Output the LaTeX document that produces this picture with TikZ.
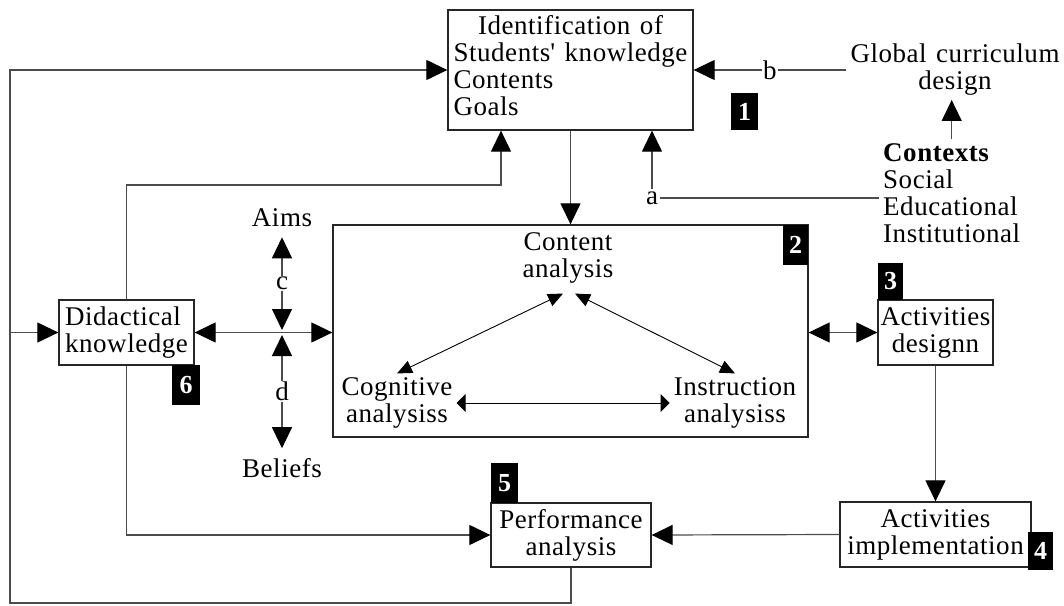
\documentclass[tikz,border=0pt]{standalone}
\usepackage{fontspec}
\setmainfont{Liberation Serif}[LetterSpace=2,WordSpace=1.3]
\usetikzlibrary{arrows.meta,calc}
\begin{document}
\begin{tikzpicture}[x=1pt,y=-1pt,
  every node/.style={font=\fontsize{27pt}{27pt}\selectfont, inner sep=4pt},
  box/.style={draw=black!85, line width=1.3pt, inner sep=0pt},
  tag/.style={fill=black, text=white, inner sep=0pt, font=\fontsize{26pt}{26pt}\selectfont\bfseries},
  conn/.style={draw=black!70, line width=1.2pt},
  arr/.style={conn, -{Triangle[length=21pt,width=20pt,color=black]}},
  dbl/.style={conn, {Triangle[length=21pt,width=20pt,color=black]}-{Triangle[length=21pt,width=20pt,color=black]}},
  sdbl/.style={draw=black, line width=0.9pt, {Triangle[length=15pt,width=13pt]}-{Triangle[length=15pt,width=13pt]}},
  hdbl/.style={draw=black, line width=0.9pt, {Triangle[length=9pt,width=18pt]}-{Triangle[length=9pt,width=18pt]}},
  lbl/.style={fill=white, inner sep=1pt}
]
\useasboundingbox (0,0) rectangle (1064,605);

% boxes
\node[box, minimum width=245pt, minimum height=120pt] (id) at (570.5,70)
  {\begin{tabular}{@{}l@{}}\multicolumn{1}{@{}c@{}}{Identification of}\\ Students\textquotesingle{} knowledge\\ Contents\\ Goals\end{tabular}};
\node[box, minimum width=475pt, minimum height=212pt] (ana) at (570.5,331) {};
\node[box, minimum width=115pt, minimum height=65pt, align=center] (des) at (935.5,332.5) {Activities\\designn};
\node[box, minimum width=191pt, minimum height=65pt, align=center] (impl) at (935.5,534.5) {Activities\\implementation};
\node[box, minimum width=160pt, minimum height=64pt, align=center] (perf) at (571,535) {Performance\\analysis};
\node[box, minimum width=135pt, minimum height=65pt, align=left] (did) at (126.5,332.5) {Didactical\\knowledge};

% number tags
\node[tag, minimum width=27pt, minimum height=37pt] (t1) at (744.5,111.5) {1};
\node[tag, minimum width=25pt, minimum height=40pt] (t2) at (795.5,245) {2};
\node[tag, minimum width=25pt, minimum height=37pt] (t3) at (890.5,281.5) {3};
\node[tag, minimum width=25pt, minimum height=38pt] (t4) at (1040.5,551) {4};
\node[tag, minimum width=27pt, minimum height=40pt] (t5) at (504.5,483) {5};
\node[tag, minimum width=28pt, minimum height=40pt] (t6) at (186,385) {6};

% inner texts of box 2
\node[align=center] (cont) at (568,258) {Content\\analysis};
\node[align=center] (cog) at (397,403) {Cognitive\\analysiss};
\node[align=center] (ins) at (735,403) {Instruction\\analysiss};

% free texts
\node[align=center] (glob) at (955,70) {Global curriculum\\design};
\node[align=left, anchor=north west] (ctx) at (879,139) {\textbf{Contexts}\\Social\\Educational\\Institutional};
\node (aims) at (282,218) {Aims};
\node (bel) at (282,468) {Beliefs};
\node[inner sep=2pt] (a) at (652,198) {a};
\coordinate (j) at (282,333);

% connectors inside box 2
\draw[sdbl] ([xshift=-5pt,yshift=-6pt]cont.south) -- (cog.north);
\draw[sdbl] ([xshift=7pt,yshift=-6pt]cont.south) -- (ins.north);
\draw[hdbl] (cog.east) -- (ins.west);

% main connectors
\draw[arr] (id.south) -- (ana.north);
\draw[conn] (a.east) -- (a.east -| ctx.west);
\draw[arr] (a.north) -- (a.north |- id.south);
\draw[arr] (glob.west) -- node[lbl]{b} (id.east);
\draw[arr] (ctx.north) -- (ctx.north |- glob.south);
\draw[dbl] ([yshift=-6pt]aims.south) -- node[lbl]{c} ([yshift=3pt]j);
\draw[dbl] ([yshift=-2pt]j) -- node[lbl]{d} ([yshift=6pt]bel.north);
\draw[dbl] (did.east) -- (did.east -| ana.west);
\draw[dbl] (ana.east |- des.west) -- (des.west);
\draw[arr] (des.south) -- (impl.north);
\draw[arr] (impl.west) -- (perf.east);
\draw[arr] (did.south) |- (perf.west);
\coordinate (k1) at ([xshift=-69.5pt]id.south);
\coordinate (r185) at (0,185);
\draw[arr] (did.north) |- (k1 |- r185) -- (k1);
\coordinate (bl) at (10,603);
\draw[arr] (perf.south) |- (bl) -- (bl |- id.west) -- (id.west);
\draw[arr] (bl |- did.west) -- (did.west);
\end{tikzpicture}
\end{document}
